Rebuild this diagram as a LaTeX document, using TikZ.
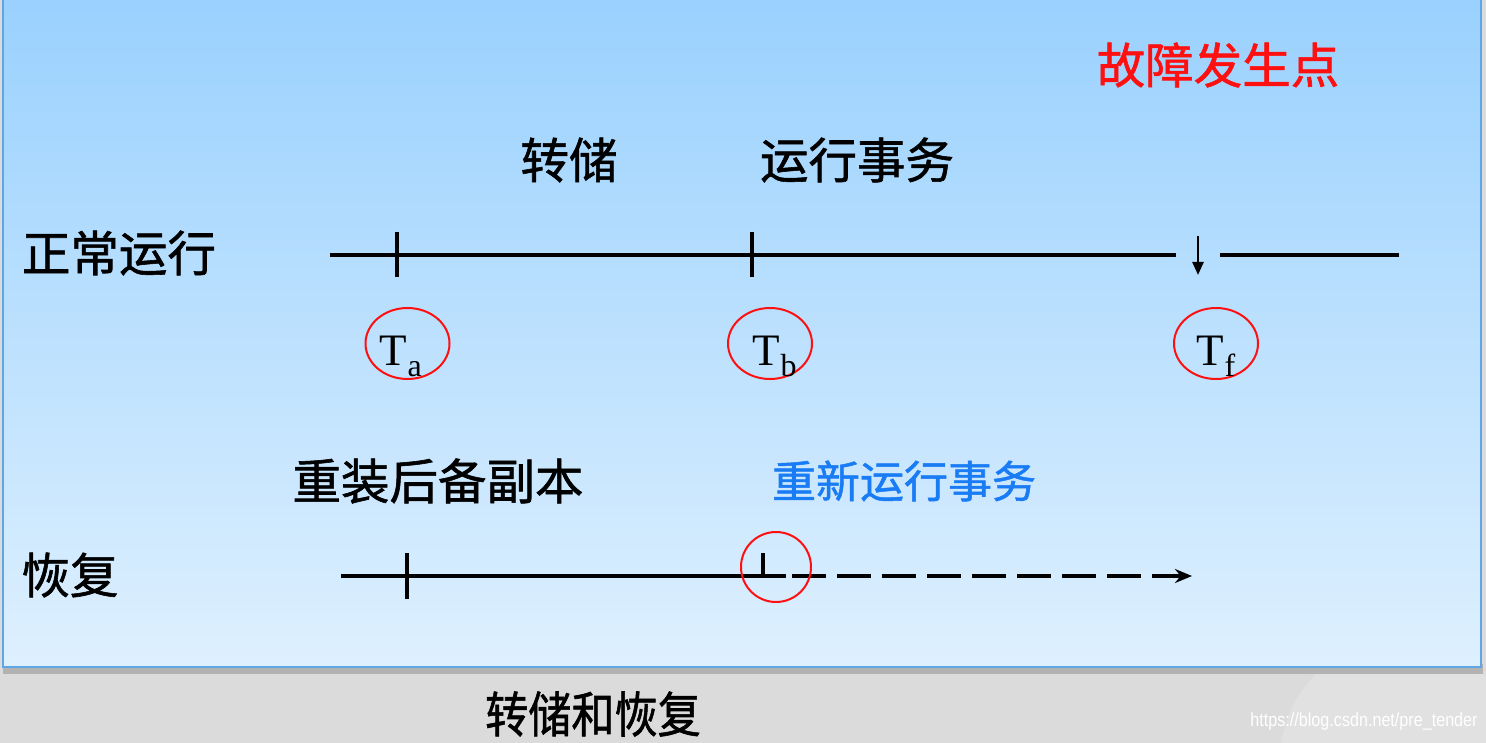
\documentclass[tikz,border=0pt]{standalone}
\usepackage{fontspec}
\setmainfont{Liberation Serif}
\setsansfont{Liberation Sans}
\newfontfamily\cjk{Noto Sans CJK SC}[FakeBold=1.2]
\usetikzlibrary{arrows.meta,shapes.geometric}
\definecolor{bgtop}{HTML}{9AD1FE}
\definecolor{bgbot}{HTML}{DEF0FE}
\definecolor{frameblue}{HTML}{5FA6E6}
\definecolor{greybg}{HTML}{DCDBDB}
\definecolor{myred}{HTML}{FF1010}
\definecolor{myblue}{HTML}{1A7CF5}
\newcommand{\tsub}[2]{T\hspace{1pt}{\fontsize{32}{32}\selectfont\raisebox{-11pt}{#2}}}
\tikzset{
  cn/.style={font=\cjk\fontsize{48.5}{50}\selectfont, inner sep=0pt, anchor=center},
  axis/.style={line width=4pt, black},
  tickmark/.style={line width=4pt, black},
  mark circle/.style={draw=myred, line width=2pt, ellipse, minimum width=84pt, minimum height=71pt, inner sep=0pt},
  tlabel/.style={font=\fontsize{45}{46}\selectfont, inner sep=0pt},
}
\begin{document}
\begin{tikzpicture}[x=1pt,y=-1pt]
\useasboundingbox (0,0) rectangle (1486,743);
% backgrounds
\fill[greybg] (0,0) rectangle (1486,743);
\fill[gray!18, opacity=0.5] (1400,760) circle (120);
\fill[gray!60] (3,664) rectangle (1483,674);
\shade[top color=bgtop, bottom color=bgbot] (3,0) rectangle (1481,667);
\draw[frameblue, line width=2pt] (3,0) -- (3,667) -- (1481,667) -- (1481,0);

% texts
\node[cn, text=myred] (fault) at (1218,65) {故障发生点};
\node[cn] (dump) at (569,160) {转储};
\node[cn] (runtx) at (857,160) {运行事务};
\node[cn] (normal) at (119,253) {正常运行};
\node[cn] (reload) at (438,481) {重装后备副本};
\node[cn, text=myblue, font=\cjk\fontsize{44}{46}\selectfont] (rerun) at (904,481) {重新运行事务};
\node[cn] (recover) at (70,575) {恢复};
\node[cn, xscale=0.88, font=\cjk\fontsize{49}{50}\selectfont] (caption) at (593,714) {转储和恢复};
\node[font=\fontsize{19}{20}\selectfont\sffamily, text=white, xscale=0.85, inner sep=0pt] (wm) at (1364,722) {https://blog.csdn.net/pre\_tender};

% normal run line
\coordinate (n0) at (330,255);
\coordinate (n1) at (1176,255);
\coordinate (n2) at (1220,255);
\coordinate (n3) at (1399,255);
\draw[axis] (n0) -- (n1);
\draw[axis] (n2) -- (n3);
\coordinate (ta top) at (397,232);
\coordinate (ta bot) at (397,277);
\coordinate (tb top) at (752,232);
\coordinate (tb bot) at (752,277);
\draw[tickmark] (ta top) -- (ta bot);
\draw[tickmark] (tb top) -- (tb bot);
\coordinate (tf top) at (1198,236);
\coordinate (tf bot) at (1198,275);
\draw[line width=2.5pt, -{Triangle[length=13pt,width=11pt]}] (tf top) -- (tf bot);

% time labels
\node[mark circle] (ca) at (407.5,343.5) {};
\node[mark circle] (cb) at (770,343.5) {};
\node[mark circle] (cf) at (1216,343.5) {};
\node[tlabel, anchor=base west] (Ta) at (379,365) {\tsub{T}{a}};
\node[tlabel, anchor=base west] (Tb) at (752,365) {\tsub{T}{b}};
\node[tlabel, anchor=base west] (Tf) at (1196,365) {\tsub{T}{f}};

% recovery line
\coordinate (r0) at (341,576);
\coordinate (r1) at (786,576);
\coordinate (r2) at (792,576);
\coordinate (r3) at (1192,576);
\draw[axis] (r0) -- (r1);
\coordinate (rt top) at (407,553);
\coordinate (rt bot) at (407,599);
\draw[tickmark] (rt top) -- (rt bot);
\coordinate (rb top) at (763,553);
\coordinate (rb bot) at (763,576);
\draw[tickmark] (rb top) -- (rb bot);
\draw[line width=3.5pt, dash pattern=on 34pt off 11pt, -{Stealth[length=17pt,width=14pt]}] (r2) -- (r3);
\node[draw=myred, line width=2pt, circle, minimum size=70pt, inner sep=0pt] (cr) at (776,567) {};
\end{tikzpicture}
\end{document}
